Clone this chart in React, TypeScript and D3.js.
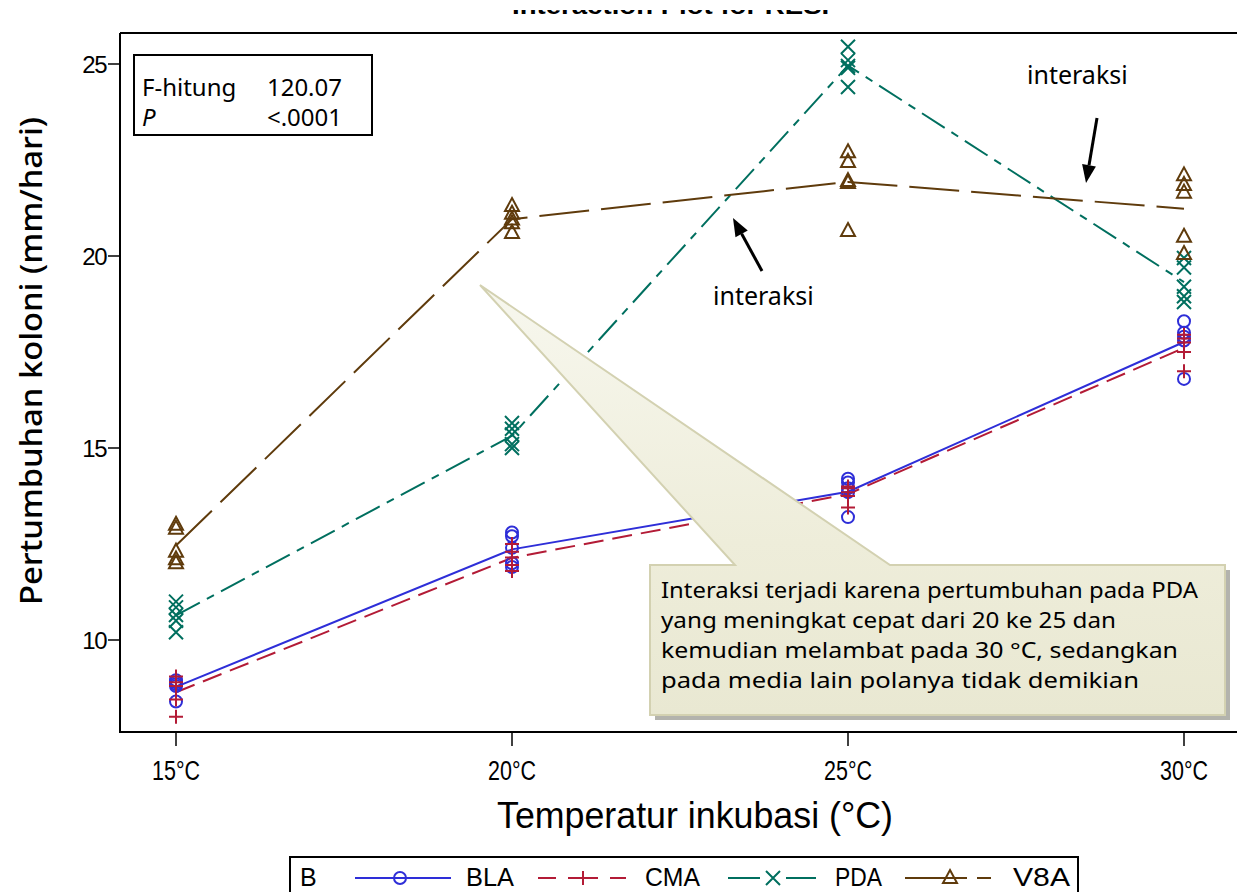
import React from "react";
import * as d3 from "d3";

// temperatures on the x axis
const temperatures = [15, 20, 25, 30];
const tempLabels = ["15°C", "20°C", "25°C", "30°C"];
const yTicks = [10, 15, 20, 25];

// replicate colony growth (mm/day) per medium, one row per temperature
const blaValues = [
  [8.95, 8.9, 8.85, 8.8, 8.4],
  [12.8, 12.7, 12.4, 12.0, 11.9],
  [14.2, 14.1, 13.95, 13.85, 13.2],
  [18.3, 18.0, 17.9, 17.8, 16.8],
];
const cmaValues = [
  [9.05, 8.9, 8.8, 8.45, 8.0],
  [12.5, 12.3, 12.15, 11.95, 11.8],
  [14.0, 13.95, 13.85, 13.75, 13.45],
  [17.95, 17.85, 17.75, 17.5, 17.0],
];
const pdaValues = [
  [11.0, 10.85, 10.65, 10.5, 10.2],
  [15.65, 15.5, 15.35, 15.1, 15.0],
  [25.45, 25.1, 24.95, 24.9, 24.4],
  [19.95, 19.7, 19.2, 18.95, 18.8],
];
const v8aValues = [
  [13.0, 12.9, 12.3, 12.1, 12.0],
  [21.3, 21.1, 20.95, 20.85, 20.6],
  [22.7, 22.45, 21.95, 21.9, 20.65],
  [22.1, 21.85, 21.65, 20.5, 20.05],
];

const mediaNames = ["BLA", "CMA", "PDA", "V8A"];

const calloutLines = [
  "Interaksi terjadi karena pertumbuhan pada PDA",
  "yang meningkat cepat dari 20 ke 25 dan",
  "kemudian  melambat pada 30 °C, sedangkan",
  "pada media lain polanya tidak demikian",
];

const narrow = "'Liberation Sans Narrow', 'Liberation Sans', Arial, sans-serif";
const sans = "'Liberation Sans', Arial, sans-serif";
const gothic = "'Noto Sans', 'Open Sans', sans-serif";

const series = [
  { name: mediaNames[0], values: blaValues, color: "#2e2ed8", dash: "", marker: "circle" },
  { name: mediaNames[1], values: cmaValues, color: "#b31b36", dash: "20 9", marker: "plus" },
  { name: mediaNames[2], values: pdaValues, color: "#006f5f", dash: "27 8 8 8", marker: "x" },
  { name: mediaNames[3], values: v8aValues, color: "#5f3b0c", dash: "50 12", marker: "triangle" },
];

// legend sample pieces (offsets from the sample start)
const legendPieces = [
  [[0, 96]],
  [[0, 18], [30, 60], [72, 88]],
  [[0, 32], [58, 88]],
  [[0, 62], [72, 86]],
];

function Marker({ type, x, y, color }: { type: string; x: number; y: number; color: string }) {
  const common = { stroke: color, strokeWidth: 2, fill: "none" };
  if (type === "circle") return <circle cx={x} cy={y} r={6} {...common} />;
  if (type === "plus")
    return <path d={`M${x - 7},${y}H${x + 7}M${x},${y - 7}V${y + 7}`} {...common} />;
  if (type === "x")
    return <path d={`M${x - 7},${y - 7}L${x + 7},${y + 7}M${x - 7},${y + 7}L${x + 7},${y - 7}`} {...common} />;
  return <path d={`M${x},${y - 8}L${x + 7},${y + 5}L${x - 7},${y + 5}Z`} {...common} />;
}

function Arrow({ x1, y1, x2, y2 }: { x1: number; y1: number; x2: number; y2: number }) {
  const a = Math.atan2(y2 - y1, x2 - x1);
  const len = 18, half = 7;
  const bx = x2 - len * Math.cos(a), by = y2 - len * Math.sin(a);
  const px = -Math.sin(a) * half, py = Math.cos(a) * half;
  return (
    <g>
      <line x1={x1} y1={y1} x2={bx} y2={by} stroke="#000" strokeWidth={3} />
      <path d={`M${x2},${y2}L${bx + px},${by + py}L${bx - px},${by - py}Z`} fill="#000" />
    </g>
  );
}

export default function App() {
  const x = d3.scaleLinear().domain([15, 30]).range([176, 1184]);
  const y = d3.scaleLinear().domain([10, 25]).range([640, 64]);

  const line = d3
    .line<[number, number]>()
    .x((d) => x(d[0]))
    .y((d) => y(d[1]));

  const callout = "M650,565 L735,565 L480,285 L890,565 L1225,565 L1225,715 L650,715 Z";

  return (
    <svg
      width={1237}
      height={892}
      style={{ position: "absolute", left: 0, top: 0, background: "#fff" }}
    >
      <defs>
        <clipPath id="titleClip">
          <rect x={0} y={10} width={1237} height={6} />
        </clipPath>
        <linearGradient id="callGrad" x1="0" y1="0" x2="0" y2="1">
          <stop offset="0" stopColor="#f7f7ee" />
          <stop offset="0.6" stopColor="#eeedda" />
          <stop offset="1" stopColor="#e9e8d2" />
        </linearGradient>
      </defs>

      {/* clipped title remnant */}
      <text
        x={676}
        y={14}
        textAnchor="middle"
        fontFamily={sans}
        fontWeight="bold"
        fontSize={24}
        clipPath="url(#titleClip)"
        textLength={328}
        lengthAdjust="spacingAndGlyphs"
      >
        Interaction Plot for RESP
      </text>

      {/* frame */}
      <line x1={120} y1={33} x2={1237} y2={33} stroke="#000" strokeWidth={2} />
      <line x1={120} y1={732} x2={1237} y2={732} stroke="#000" strokeWidth={2} />
      <line x1={120} y1={33} x2={120} y2={733} stroke="#000" strokeWidth={2} />

      {/* y axis */}
      {yTicks.map((t) => (
        <g key={t}>
          <line x1={108} x2={120} y1={y(t)} y2={y(t)} stroke="#000" strokeWidth={1.5} />
          <text x={106} y={y(t) + 8.5} textAnchor="end" fontFamily={sans} fontSize={24} letterSpacing={-1.5}>
            {t}
          </text>
        </g>
      ))}
      <text
        transform="translate(42,361) rotate(-90)"
        textAnchor="middle"
        fontFamily={gothic}
        fontSize={31}
        fontWeight={500}
        textLength={488}
        lengthAdjust="spacingAndGlyphs"
      >
        Pertumbuhan koloni (mm/hari)
      </text>

      {/* x axis */}
      {temperatures.map((t, i) => (
        <g key={t}>
          <line x1={x(t)} x2={x(t)} y1={732} y2={746} stroke="#000" strokeWidth={1.5} />
          <text
            x={x(t)}
            y={780}
            textAnchor="middle"
            fontFamily={narrow}
            fontSize={27}
            textLength={48}
            lengthAdjust="spacingAndGlyphs"
          >
            {tempLabels[i]}
          </text>
        </g>
      ))}
      <text
        x={695}
        y={828}
        textAnchor="middle"
        fontFamily={narrow}
        fontSize={37}
        textLength={396}
        lengthAdjust="spacingAndGlyphs"
      >
        Temperatur inkubasi (°C)
      </text>

      {/* mean lines */}
      {series.map((s) => (
        <path
          key={s.name + "line"}
          d={line(temperatures.map((t, i) => [t, d3.mean(s.values[i]) as number])) || ""}
          fill="none"
          stroke={s.color}
          strokeWidth={2}
          strokeDasharray={s.dash}
        />
      ))}

      {/* replicate markers */}
      {series.map((s) =>
        temperatures.map((t, i) =>
          s.values[i].map((v, j) => (
            <Marker key={`${s.name}-${t}-${j}`} type={s.marker} x={x(t)} y={y(v)} color={s.color} />
          ))
        )
      )}

      {/* stats box */}
      <rect x={134} y={55} width={238} height={80} fill="#fff" stroke="#000" strokeWidth={2} />
      <text x={142} y={96} fontFamily={gothic} fontSize={24}>F-hitung</text>
      <text x={342} y={96} textAnchor="end" fontFamily={gothic} fontSize={24}>120.07</text>
      <text x={142} y={126} fontFamily={gothic} fontSize={24} fontStyle="italic">P</text>
      <text x={342} y={126} textAnchor="end" fontFamily={gothic} fontSize={24}>&lt;.0001</text>

      {/* callout */}
      <path d={callout} transform="translate(5,5)" fill="#b3b3ad" />
      <path d={callout} fill="url(#callGrad)" stroke="#d3d1b1" strokeWidth={2} />
      {calloutLines.map((l, i) => (
        <text
          key={i}
          x={661}
          y={598 + i * 30}
          fontFamily={gothic}
          fontSize={22}
          textLength={[537, 455, 517, 478][i]}
          lengthAdjust="spacingAndGlyphs"
        >
          {l}
        </text>
      ))}

      {/* annotations */}
      <Arrow x1={762} y1={271} x2={733} y2={218} />
      <text x={713} y={305} fontFamily={gothic} fontSize={25}>interaksi</text>
      <Arrow x1={1097} y1={118} x2={1086} y2={183} />
      <text x={1027} y={84} fontFamily={gothic} fontSize={25}>interaksi</text>

      {/* legend */}
      <rect x={290} y={857} width={788} height={40} fill="#fff" stroke="#000" strokeWidth={2} />
      <text x={300} y={886} fontFamily={narrow} fontSize={25}>B</text>
      {series.map((s, i) => {
        const starts = [355, 538, 728, 905];
        const labelX = [466, 645, 835, 1013];
        const x0 = starts[i];
        const cx = x0 + 45;
        return (
          <g key={s.name + "leg"}>
            {legendPieces[i].map(([a, b], k) => (
              <line key={k} x1={x0 + a} x2={x0 + b} y1={878} y2={878} stroke={s.color} strokeWidth={2} />
            ))}
            <Marker type={s.marker} x={cx} y={878} color={s.color} />
            <text
              x={labelX[i]}
              y={886}
              fontFamily={narrow}
              fontSize={25}
              textLength={[48, 55, 47, 57][i]}
              lengthAdjust="spacingAndGlyphs"
            >
              {s.name}
            </text>
          </g>
        );
      })}
    </svg>
  );
}
